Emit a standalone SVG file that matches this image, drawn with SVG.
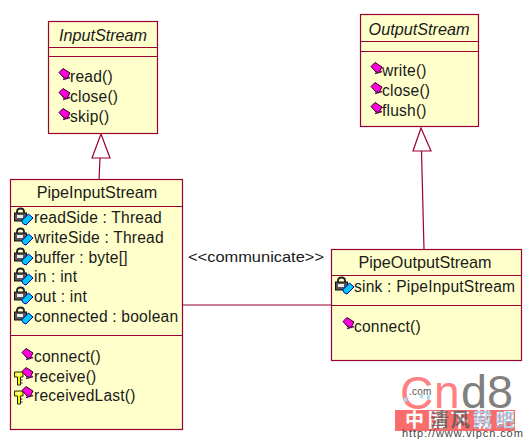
<svg xmlns="http://www.w3.org/2000/svg" width="530" height="441" viewBox="0 0 530 441">
<style>
.box{fill:#ffffcb;stroke:#990033;stroke-width:1.2}
.sep{stroke:#990033;stroke-width:1.2;fill:none}
.tri{fill:#fff;stroke:#990033;stroke-width:1.2}
text{font-family:"Liberation Sans",Arial,sans-serif;font-size:15.6px;fill:#1a1a1a;letter-spacing:.2px}
.t{text-anchor:middle;font-size:16.2px;letter-spacing:0}
.i{font-style:italic}
.big{font-size:46px;letter-spacing:0}
.cjk{font-family:"Noto Sans CJK SC",sans-serif;font-size:19px;font-weight:700}
</style>
<defs>
<g id="attr">
<path d="M3 5V3.500Q3 0.500 6.500 0.500T10 3.500V5" fill="none" stroke="#222" stroke-width="1.8"/>
<rect x="0.500" y="5" width="12" height="8" fill="#555" stroke="#111"/>
<rect x="3" y="7" width="6" height="3" fill="#eee"/>
<path d="M7.500 13L14.500 6L19 10L12 17L9.500 16Z" fill="#00c8ff" stroke="#0000a0"/>
</g>
<g id="op">
<path d="M0 4.500L4 0.500L11 5L8 10.500L5 10Z" fill="#ff00dd" stroke="#220022"/>
<path d="M4 11.500L11 9.500" stroke="#551155" stroke-width="1.500"/>
</g>
<g id="key">
<path d="M0.500 2H9V7H6.500V15H3.500V7H0.500Z" fill="#ffff00" stroke="#222"/>
<rect x="3" y="3.500" width="3" height="2" fill="#fff"/>
<path d="M6.500 10H8.500M6.500 13H8.500" stroke="#222"/>
</g>
</defs>

<g id="connectors">
<path class="sep" d="M183 305H331"/>
<path class="sep" d="M100 158L99 180"/>
<path class="tri" d="M101 134L110 158H92Z"/>
<path class="sep" d="M421.500 151L424 249"/>
<path class="tri" d="M421 128L431 151H413Z"/>
<text x="188" y="262" textLength="136" lengthAdjust="spacingAndGlyphs" style="font-size:15px;letter-spacing:0">&lt;&lt;communicate&gt;&gt;</text>
</g>

<g id="InputStream">
<rect class="box" x="48.500" y="21.500" width="109" height="112"/>
<path class="sep" d="M48.500 47.500H157.500M48.500 56.500H157.500"/>
<text class="t i" x="103" y="41">InputStream</text>
<use href="#op" x="59" y="68"/><text x="70" y="82">read()</text>
<use href="#op" x="59" y="88"/><text x="70" y="102">close()</text>
<use href="#op" x="59" y="108"/><text x="70" y="122">skip()</text>
</g>

<g id="OutputStream">
<rect class="box" x="360.500" y="14.500" width="118" height="112"/>
<path class="sep" d="M360.500 41.500H478.500M360.500 51.500H478.500"/>
<text class="t i" x="419" y="35">OutputStream</text>
<use href="#op" x="371" y="62"/><text x="382" y="76">write()</text>
<use href="#op" x="371" y="82"/><text x="382" y="96">close()</text>
<use href="#op" x="371" y="102"/><text x="382" y="116">flush()</text>
</g>

<g id="PipeInputStream">
<rect class="box" x="10.500" y="179.500" width="172" height="250"/>
<path class="sep" d="M10.500 206.500H182.500M10.500 335.500H182.500"/>
<text class="t" x="97" y="198">PipeInputStream</text>
<use href="#attr" x="14" y="208"/><text x="34" y="223">readSide : Thread</text>
<use href="#attr" x="14" y="228"/><text x="34" y="243">writeSide : Thread</text>
<use href="#attr" x="14" y="248"/><text x="34" y="263">buffer : byte[]</text>
<use href="#attr" x="14" y="268"/><text x="34" y="282">in : int</text>
<use href="#attr" x="14" y="287"/><text x="34" y="302">out : int</text>
<use href="#attr" x="14" y="307"/><text x="34" y="322">connected : boolean</text>
<use href="#op" x="22" y="348"/><text x="34" y="362">connect()</text>
<use href="#key" x="14" y="370"/><use href="#op" x="22" y="367"/><text x="34" y="382">receive()</text>
<use href="#key" x="14" y="389"/><use href="#op" x="22" y="386"/><text x="34" y="401">receivedLast()</text>
</g>

<g id="PipeOutputStream">
<rect class="box" x="331.500" y="249.500" width="190" height="111"/>
<path class="sep" d="M331.500 275.500H521.500M331.500 305.500H521.500"/>
<text class="t" x="425" y="268">PipeOutputStream</text>
<use href="#attr" x="335" y="277"/><text x="354" y="292">sink : PipeInputStream</text>
<use href="#op" x="343" y="317"/><text x="354" y="332">connect()</text>
</g>

<g id="watermark">
<text class="big" x="400" y="409" style="fill:#ff8080">C</text>
<text class="big" x="434" y="408" style="fill:#ff8080">n</text>
<text class="big" x="461" y="408" style="fill:#808080" textLength="52" lengthAdjust="spacingAndGlyphs">d8</text>
<text x="409" y="395" style="font-size:10px;fill:#555">.com</text>
<path d="M404 400L410 398M420 396L434 398" stroke="#a8dcf8" stroke-width="4" stroke-dasharray="3 4" fill="none"/>
<rect x="395" y="410" width="120" height="21" fill="#f86c6c"/>
<text class="cjk" x="405" y="427" style="fill:#fff" textLength="110" lengthAdjust="spacing">中国下载吧</text>
<text class="cjk" x="430" y="427" style="fill:#555;fill-opacity:.75" textLength="40" lengthAdjust="spacing">清风</text>
<text class="cjk" x="473" y="427" style="fill:#8fbfe0;fill-opacity:.7" textLength="42" lengthAdjust="spacing">网络</text>
<text x="402" y="437" style="font-size:11px;fill:#444" textLength="121" lengthAdjust="spacing">http://www.vipcn.com</text>
</g>
</svg>
